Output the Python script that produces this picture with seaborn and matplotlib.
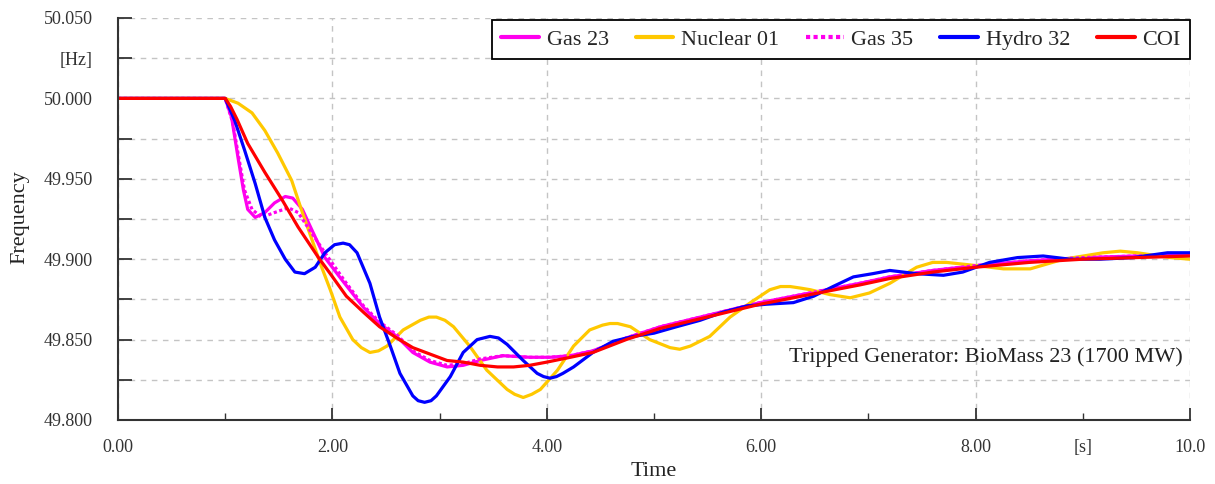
import numpy as np
import pandas as pd
import matplotlib
matplotlib.use("Agg")
import matplotlib.pyplot as plt
import seaborn as sns
from matplotlib.ticker import FixedLocator, FixedFormatter

# ---------------- data ----------------
t_gas23 = [0, 1.0, 1.06, 1.12, 1.17, 1.21, 1.28, 1.37, 1.46, 1.56, 1.63, 1.72, 1.81, 1.93, 2.09,
           2.29, 2.44, 2.60, 2.75, 2.91, 3.07, 3.22, 3.38, 3.59, 3.84, 4.03, 4.22, 4.43, 4.74,
           5.06, 5.37, 5.68, 5.99, 6.30, 6.61, 6.92, 7.20, 7.6, 8.0, 8.5, 9.0, 9.5, 10.0]
f_gas23 = [50.0, 50.0, 49.988, 49.963, 49.943, 49.931, 49.926, 49.929, 49.935, 49.939, 49.938,
           49.931, 49.918, 49.901, 49.887, 49.870, 49.860, 49.852, 49.842, 49.836, 49.833,
           49.834, 49.837, 49.840, 49.839, 49.839, 49.840, 49.843, 49.851, 49.858, 49.863,
           49.868, 49.873, 49.877, 49.881, 49.885, 49.889, 49.893, 49.896, 49.899, 49.901,
           49.902, 49.903]

t_nuc01 = [0, 1.0, 1.12, 1.25, 1.37, 1.49, 1.62, 1.72, 1.81, 1.90, 1.98, 2.07, 2.19, 2.27, 2.35,
           2.43, 2.51, 2.66, 2.82, 2.90, 2.97, 3.05, 3.13, 3.28, 3.44, 3.63, 3.70, 3.78, 3.86,
           3.94, 4.10, 4.25, 4.40, 4.52, 4.59, 4.66, 4.78, 4.96, 5.15, 5.24, 5.34, 5.52, 5.71,
           5.90, 6.08, 6.18, 6.27, 6.37, 6.46, 6.64, 6.83, 7.01, 7.20, 7.45, 7.60, 7.73, 7.87,
           8.01, 8.26, 8.51, 8.82, 9.19, 9.35, 9.51, 9.81, 10.0]
f_nuc01 = [50.0, 50.0, 49.997, 49.991, 49.980, 49.966, 49.949, 49.929, 49.912, 49.895, 49.881,
           49.864, 49.850, 49.845, 49.842, 49.843, 49.846, 49.856, 49.862, 49.864, 49.864,
           49.862, 49.858, 49.846, 49.831, 49.819, 49.816, 49.814, 49.816, 49.819, 49.831,
           49.846, 49.856, 49.859, 49.860, 49.860, 49.858, 49.850, 49.845, 49.844, 49.846,
           49.852, 49.864, 49.873, 49.881, 49.883, 49.883, 49.882, 49.881, 49.878, 49.876,
           49.879, 49.885, 49.895, 49.898, 49.898, 49.897, 49.896, 49.894, 49.894, 49.900,
           49.904, 49.905, 49.904, 49.901, 49.900]

t_gas35 = [0, 1.0, 1.07, 1.13, 1.18, 1.25, 1.34, 1.46, 1.59, 1.68, 1.77, 1.93, 2.12, 2.29, 2.44,
           2.60, 2.75, 2.91, 3.07, 3.22, 3.38, 3.59, 3.84, 4.03, 4.22, 4.43, 4.74, 5.06, 5.37,
           5.68, 5.99, 6.30, 6.61, 6.92, 7.20, 7.6, 8.0, 8.5, 9.0, 9.5, 10.0]
f_gas35 = [50.0, 50.0, 49.985, 49.962, 49.943, 49.931, 49.926, 49.929, 49.932, 49.929, 49.920,
           49.904, 49.886, 49.871, 49.861, 49.853, 49.843, 49.837, 49.834, 49.835, 49.838,
           49.840, 49.839, 49.839, 49.840, 49.843, 49.851, 49.858, 49.863, 49.868, 49.873,
           49.877, 49.881, 49.885, 49.889, 49.893, 49.896, 49.899, 49.901, 49.902, 49.903]

t_hyd32 = [0, 1.0, 1.09, 1.18, 1.28, 1.37, 1.46, 1.56, 1.65, 1.74, 1.84, 1.93, 2.02, 2.10, 2.16,
           2.23, 2.35, 2.44, 2.54, 2.63, 2.75, 2.80, 2.86, 2.92, 2.97, 3.10, 3.22, 3.35, 3.41,
           3.47, 3.55, 3.63, 3.78, 3.91, 3.97, 4.03, 4.09, 4.15, 4.25, 4.43, 4.62, 4.81, 5.0,
           5.21, 5.43, 5.64, 5.87, 6.05, 6.30, 6.49, 6.67, 6.86, 7.04, 7.20, 7.45, 7.70, 7.88,
           8.13, 8.39, 8.63, 8.88, 9.16, 9.47, 9.79, 10.0]
f_hyd32 = [50.0, 50.0, 49.986, 49.968, 49.947, 49.926, 49.912, 49.900, 49.892, 49.891, 49.895,
           49.904, 49.909, 49.910, 49.909, 49.904, 49.885, 49.864, 49.846, 49.829, 49.815,
           49.812, 49.811, 49.812, 49.815, 49.827, 49.842, 49.850, 49.851, 49.852, 49.851,
           49.847, 49.837, 49.829, 49.827, 49.826, 49.827, 49.829, 49.833, 49.842, 49.849,
           49.852, 49.854, 49.858, 49.862, 49.867, 49.871, 49.872, 49.873, 49.877, 49.883,
           49.889, 49.891, 49.893, 49.891, 49.890, 49.892, 49.898, 49.901, 49.902, 49.900,
           49.900, 49.901, 49.904, 49.904]

t_coi = [0, 1.0, 1.05, 1.11, 1.21, 1.37, 1.53, 1.68, 1.87, 1.98, 2.13, 2.29, 2.44, 2.60, 2.75,
         2.91, 3.07, 3.22, 3.38, 3.54, 3.69, 3.84, 4.0, 4.22, 4.43, 4.74, 5.06, 5.37, 5.68, 5.99,
         6.30, 6.61, 6.92, 7.20, 7.6, 8.0, 8.5, 9.0, 9.5, 10.0]
f_coi = [50.0, 50.0, 49.995, 49.987, 49.972, 49.954, 49.937, 49.920, 49.901, 49.891, 49.877,
         49.867, 49.858, 49.851, 49.845, 49.841, 49.837, 49.836, 49.834, 49.833, 49.833, 49.834,
         49.836, 49.839, 49.842, 49.850, 49.857, 49.862, 49.867, 49.872, 49.876, 49.880, 49.884,
         49.888, 49.892, 49.895, 49.898, 49.900, 49.901, 49.902]

series_names = ["Gas 23", "Nuclear 01", "Gas 35", "Hydro 32", "COI"]

y_ticks = [49.800, 49.825, 49.850, 49.875, 49.900, 49.925, 49.950, 49.975, 50.000, 50.025, 50.050]
y_tick_labels = ["49.800", "", "49.850", "", "49.900", "", "49.950", "", "50.000", "[Hz]", "50.050"]
x_major = [0, 2, 4, 6, 8, 10]
x_major_labels = ["0.00", "2.00", "4.00", "6.00", "8.00", "10.0"]
x_minor = [1, 3, 5, 7, 9]
x_minor_labels = ["", "", "", "", "[s]"]

annotation = "Tripped Generator: BioMass 23 (1700 MW)"

# ---------------- styling ----------------
sns.set_theme(style="white")
plt.rcParams['font.family'] = ['Liberation Serif', 'DejaVu Serif']

colors = ["#FF00EE", "#FFC800", "#FF00EE", "#0000FF", "#FF0000"]
styles = ["-", "-", (0, (1.0, 0.8)), "-", "-"]

fig = plt.figure(figsize=(12.15, 4.84), dpi=100)
ax = fig.add_axes([118 / 1215, 1 - 420 / 484, (1190 - 118) / 1215, (420 - 18) / 484])

data_sets = [(t_gas23, f_gas23), (t_nuc01, f_nuc01), (t_gas35, f_gas35),
             (t_hyd32, f_hyd32), (t_coi, f_coi)]
for (tt, ff), name, c, ls in zip(data_sets, series_names, colors, styles):
    df = pd.DataFrame({"Time": tt, "Frequency": ff})
    sns.lineplot(data=df, x="Time", y="Frequency", ax=ax, color=c, linewidth=2.3,
                 linestyle=ls, label=name, estimator=None, sort=False)

ax.set_xlim(0, 10)
ax.set_ylim(49.8, 50.05)

ax.yaxis.set_major_locator(FixedLocator(y_ticks))
ax.yaxis.set_major_formatter(FixedFormatter(y_tick_labels))
ax.xaxis.set_major_locator(FixedLocator(x_major))
ax.xaxis.set_major_formatter(FixedFormatter(x_major_labels))
ax.xaxis.set_minor_locator(FixedLocator(x_minor))
ax.xaxis.set_minor_formatter(FixedFormatter(x_minor_labels))

tick_col = "#333333"
ax.tick_params(axis='y', which='major', direction='in', length=10, width=1.3,
               color=tick_col, labelcolor=tick_col, labelsize=13, pad=18, left=True)
ax.tick_params(axis='x', which='major', direction='in', length=9, width=1.3,
               color=tick_col, labelcolor=tick_col, labelsize=13, pad=14, bottom=True)
ax.tick_params(axis='x', which='minor', direction='in', length=5, width=1.0,
               color=tick_col, labelcolor=tick_col, labelsize=13, pad=14, bottom=True)

ax.grid(False)
ax.yaxis.grid(True, which='major', color='#c4c4c4', linestyle=(0, (4, 4)), linewidth=1.0)
ax.xaxis.grid(True, which='major', color='#c4c4c4', linestyle=(0, (4, 4)), linewidth=1.0)
ax.set_axisbelow(True)

for s in ["top", "right"]:
    ax.spines[s].set_visible(False)
for s in ["left", "bottom"]:
    ax.spines[s].set_color("#333333")
    ax.spines[s].set_linewidth(1.5)

ax.set_xlabel("Time", fontsize=16, color="#222222")
ax.set_ylabel("Frequency", fontsize=16, color="#222222")
ax.xaxis.set_label_coords(0.5, -0.105)
ax.yaxis.set_label_coords(-0.083, 0.505)

leg = ax.legend(loc='upper right', bbox_to_anchor=(1.0, 0.995), ncol=5, fontsize=16,
                frameon=True, fancybox=False, edgecolor='black', framealpha=1,
                handlelength=1.7, handletextpad=0.35, columnspacing=1.2,
                borderpad=0.42, borderaxespad=0)
leg.get_frame().set_linewidth(1.3)
for h in leg.get_lines():
    h.set_linewidth(3)

ax.text(0.9935, 0.157, annotation, transform=ax.transAxes, ha='right', va='center',
        fontsize=16, color="#222222")

fig.savefig("out.png", dpi=100)
